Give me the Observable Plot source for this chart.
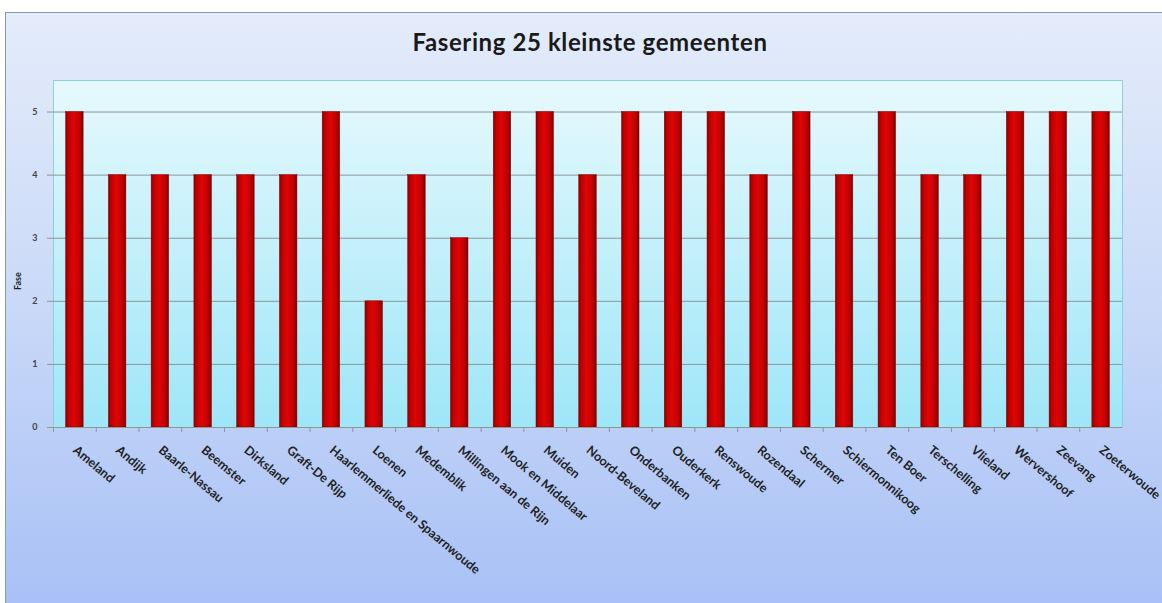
<!DOCTYPE html>
<html>
<head>
<meta charset="utf-8">
<script src="https://cdn.jsdelivr.net/npm/d3@7"></script>
<script src="https://cdn.jsdelivr.net/npm/@observablehq/plot@0.6"></script>
<style>
  html, body { margin: 0; padding: 0; background: #ffffff; width: 1162px; height: 603px; overflow: hidden; }
  #chart {
    position: absolute; left: 5px; top: 12px; width: 1170px; height: 610px;
    border: 1px solid #8498b8;
    background: linear-gradient(to bottom, #e4ecfa 0%, #cbdaf8 45%, #a6bff5 100%);
    overflow: hidden;
  }
  #title {
    height: 33px; padding-top: 16px; line-height: 26px; width: 1156px;
    text-align: center; font-family: Lato, "Open Sans", sans-serif; font-weight: bold;
    font-size: 24px; letter-spacing: 0.6px; color: #1a1a1a; padding-left: 6px; box-sizing: content-box;
  }
  #plot svg { display: block; }
</style>
</head>
<body>
<div id="chart">
  <div id="title">Fasering 25 kleinste gemeenten</div>
  <div id="plot"></div>
</div>
<script>
const categories = [
  "Ameland", "Andijk", "Baarle-Nassau", "Beemster", "Dirksland", "Graft-De Rijp",
  "Haarlemmerliede en Spaarnwoude", "Loenen", "Medemblik", "Millingen aan de Rijn",
  "Mook en Middelaar", "Muiden", "Noord-Beveland", "Onderbanken", "Ouderkerk",
  "Renswoude", "Rozendaal", "Schermer", "Schiermonnikoog", "Ten Boer",
  "Terschelling", "Vlieland", "Wervershoof", "Zeevang", "Zoeterwoude"
];
const fase = [5, 4, 4, 4, 4, 4, 5, 2, 4, 3, 5, 5, 4, 5, 5, 5, 4, 5, 4, 5, 4, 4, 5, 5, 5];
const yTicks = [0, 1, 2, 3, 4, 5];
const yLabel = "Fase";

const data = categories.map((g, i) => ({gemeente: g, fase: fase[i]}));

const W = 1156, H = 541, mL = 47, mR = 40, mT = 18, mB = 176;
const step = (W - mL - mR) / categories.length;
const barWidth = 17.5;
const inset = (step - barWidth) / 2;

const defs = () => {
  const d = d3.create("svg:defs");
  const bg = d.append("linearGradient").attr("id", "plotBg")
    .attr("x1", 0).attr("y1", 0).attr("x2", 0).attr("y2", 1);
  bg.append("stop").attr("offset", "0%").attr("stop-color", "#e6f9fd");
  bg.append("stop").attr("offset", "100%").attr("stop-color", "#9ee6f8");
  const bar = d.append("linearGradient").attr("id", "barGrad")
    .attr("x1", 0).attr("y1", 0).attr("x2", 1).attr("y2", 0);
  bar.append("stop").attr("offset", "0%").attr("stop-color", "#8c0000");
  bar.append("stop").attr("offset", "18%").attr("stop-color", "#c40000");
  bar.append("stop").attr("offset", "45%").attr("stop-color", "#dc0606");
  bar.append("stop").attr("offset", "75%").attr("stop-color", "#c80000");
  bar.append("stop").attr("offset", "100%").attr("stop-color", "#880000");
  return d.node();
};

const chart = Plot.plot({
  width: W, height: H,
  marginLeft: mL, marginRight: mR, marginTop: mT, marginBottom: mB,
  style: {background: "transparent", fontFamily: "Lato, 'Open Sans', sans-serif", overflow: "visible"},
  x: {domain: categories, padding: 0, round: false, label: null},
  y: {domain: [0, 5.5], label: null},
  marks: [
    defs,
    Plot.frame({fill: "url(#plotBg)", stroke: "#8ccfe0"}),
    Plot.gridY(yTicks.slice(1), {stroke: "#8a9898", strokeOpacity: 1}),
    Plot.barY(data, {x: "gemeente", y: "fase", insetLeft: inset, insetRight: inset, fill: "url(#barGrad)", stroke: "#7a0000", strokeWidth: 0.5}),
    Plot.ruleY([0], {stroke: "#8a9898"}),
    Plot.axisY(yTicks, {tickSize: 6, tickPadding: 10, tickFormat: "d", fontSize: 9, fontWeight: "bold", color: "#444", stroke: "#8a9898", label: null}),
    Plot.axisX({text: null, tickSize: 5, dx: -step / 2, stroke: "#8a9898"}),
    Plot.axisX({tickSize: 0, tickPadding: 21, tickRotate: 40, fontSize: 12.5, fontWeight: "bold", fill: "#222", label: null, style: {letterSpacing: "0.2px"}}),
    Plot.text([yLabel], {frameAnchor: "left", rotate: -90, dx: -35, dy: 36, fontSize: 9, fontWeight: "bold", fill: "#222"})
  ]
});
document.getElementById("plot").appendChild(chart);
</script>
</body>
</html>
